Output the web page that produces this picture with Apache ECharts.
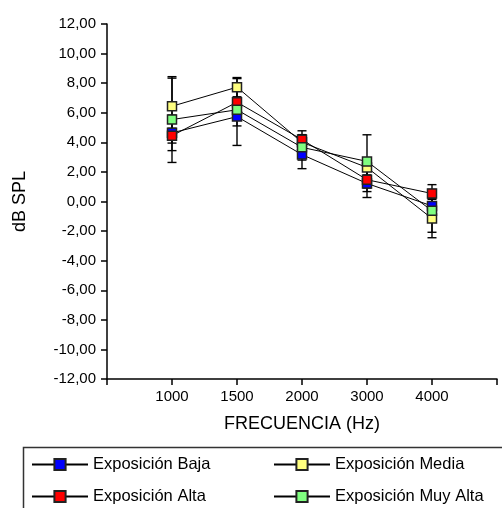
<!DOCTYPE html>
<html>
<head>
<meta charset="utf-8">
<script src="https://cdn.jsdelivr.net/npm/echarts@6/dist/echarts.min.js"></script>
<style>html,body{margin:0;padding:0;background:#fff;}#c{width:502px;height:508px;}</style>
</head>
<body>
<div id="c"></div>
<script>
var categories = [' ', '1000', '1500', '2000', '3000', '4000', '  '];
var freqs = ['1000', '1500', '2000', '3000', '4000'];
var yTicks = { min: -12, max: 12, interval: 2 };

var nameBaja = 'Exposición Baja';
var nameMedia = 'Exposición Media';
var nameAlta = 'Exposición Alta';
var nameMuyAlta = 'Exposición Muy Alta';

var bajaValues = [4.64, 5.74, 3.17, 1.22, -0.30];
var bajaErrors = [1.20, 1.95, 0.95, 0.95, 0.50];
var mediaValues = [6.44, 7.73, 4.00, 2.30, -1.15];
var mediaErrors = [1.90, 0.65, 0.50, 0.50, 1.30];
var altaValues = [4.45, 6.71, 4.18, 1.47, 0.54];
var altaErrors = [0.50, 1.60, 0.60, 0.80, 0.60];
var muyAltaValues = [5.54, 6.20, 3.66, 2.71, -0.63];
var muyAltaErrors = [2.90, 0.50, 0.86, 1.80, 1.45];

var FONT = "'Liberation Sans', Arial, sans-serif";

var groups = [
  { name: nameBaja, values: bajaValues, errors: bajaErrors, color: '#0000ff' },
  { name: nameMedia, values: mediaValues, errors: mediaErrors, color: '#ffff80' },
  { name: nameAlta, values: altaValues, errors: altaErrors, color: '#ff0000' },
  { name: nameMuyAlta, values: muyAltaValues, errors: muyAltaErrors, color: '#80ff80' }
];

function errorSeries(g) {
  return {
    type: 'custom',
    name: g.name + ' err',
    z: 1,
    silent: true,
    encode: { x: 0, y: [1, 2] },
    data: freqs.map(function (f, i) { return [f, g.values[i] - g.errors[i], g.values[i] + g.errors[i]]; }),
    renderItem: function (params, api) {
      var x = api.value(0);
      var lo = api.coord([x, api.value(1)]);
      var hi = api.coord([x, api.value(2)]);
      var hw = 4.5;
      var st = { stroke: '#000', lineWidth: 1.4 };
      return {
        type: 'group',
        children: [
          { type: 'line', shape: { x1: lo[0], y1: lo[1], x2: hi[0], y2: hi[1] }, style: st },
          { type: 'line', shape: { x1: lo[0] - hw, y1: lo[1], x2: lo[0] + hw, y2: lo[1] }, style: st },
          { type: 'line', shape: { x1: hi[0] - hw, y1: hi[1], x2: hi[0] + hw, y2: hi[1] }, style: st }
        ]
      };
    }
  };
}

function lineSeries(g, idx) {
  return {
    type: 'line',
    name: g.name,
    z: 3 + idx,
    data: freqs.map(function (f, i) { return [f, g.values[i]]; }),
    symbol: 'rect',
    symbolSize: 9,
    lineStyle: { color: '#000', width: 1 },
    itemStyle: { color: g.color, borderColor: '#222', borderWidth: 1.5 },
    emphasis: { disabled: true },
    animation: false
  };
}

var series = [];
groups.forEach(function (g) { series.push(errorSeries(g)); });
groups.forEach(function (g, i) { series.push(lineSeries(g, i)); });

var legendCommon = {
  orient: 'vertical',
  itemWidth: 56,
  itemHeight: 14,
  itemGap: 15,
  top: 456,
  padding: 0,
  textStyle: { fontFamily: FONT, fontSize: 16.5, color: '#000' },
  selectedMode: false
};

var chart = echarts.init(document.getElementById('c'), null, { renderer: 'canvas' });
chart.setOption({
  animation: false,
  backgroundColor: '#fff',
  grid: { left: 107, top: 24, right: 5, bottom: 129, containLabel: false, outerBoundsMode: 'none' },
  xAxis: {
    type: 'category',
    data: categories,
    boundaryGap: false,
    name: 'FRECUENCIA (Hz)',
    nameLocation: 'middle',
    nameGap: 36,
    nameTextStyle: { fontFamily: FONT, fontSize: 18, color: '#000' },
    axisLine: { onZero: false, lineStyle: { color: '#000', width: 1.5 } },
    axisTick: { show: true, length: 6, lineStyle: { color: '#000', width: 1.5 } },
    axisLabel: { fontFamily: FONT, fontSize: 15, color: '#000', margin: 10, interval: 0 },
    splitLine: { show: false }
  },
  yAxis: {
    type: 'value',
    min: yTicks.min,
    max: yTicks.max,
    interval: yTicks.interval,
    name: 'dB SPL',
    nameLocation: 'middle',
    nameRotate: 90,
    nameGap: 78,
    nameTextStyle: { fontFamily: FONT, fontSize: 18, color: '#000' },
    axisLine: { show: true, lineStyle: { color: '#000', width: 1.5 } },
    axisTick: { show: true, length: 6, lineStyle: { color: '#000', width: 1.5 } },
    axisLabel: {
      fontFamily: FONT, fontSize: 15, color: '#000', margin: 11,
      formatter: function (v) { return v.toFixed(2).replace('.', ','); }
    },
    splitLine: { show: false }
  },
  legend: [
    Object.assign({}, legendCommon, { left: 31, data: [nameBaja, nameAlta] }),
    Object.assign({}, legendCommon, { left: 273, data: [nameMedia, nameMuyAlta] })
  ],
  graphic: [
    { type: 'rect', z: -1, shape: { x: 23.5, y: 447.5, width: 600, height: 120 }, style: { fill: '#fff', stroke: '#333', lineWidth: 1.5 } }
  ],
  series: series
});
</script>
</body>
</html>
